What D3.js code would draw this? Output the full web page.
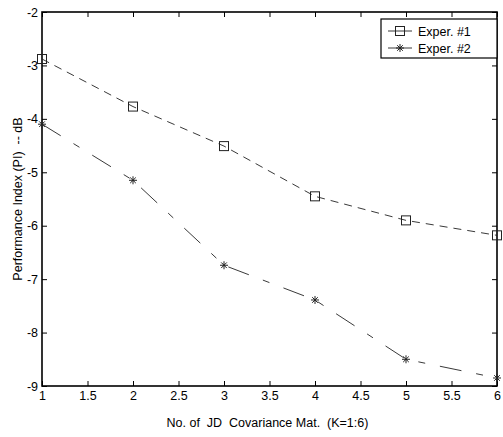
<!DOCTYPE html>
<html><head><meta charset="utf-8">
<script src="https://cdn.jsdelivr.net/npm/d3@7"></script>
<style>body{margin:0;background:#fff}svg{display:block}text{font-family:"Liberation Sans",Arial,sans-serif;fill:#000}</style>
</head><body>
<script>
const kValues = [1, 2, 3, 4, 5, 6];
const exper1 = [-2.88, -3.77, -4.51, -5.45, -5.90, -6.18];
const exper2 = [-4.10, -5.15, -6.74, -7.39, -8.50, -8.85];
const xTicks = [1, 1.5, 2, 2.5, 3, 3.5, 4, 4.5, 5, 5.5, 6];
const yTicks = [-2, -3, -4, -5, -6, -7, -8, -9];
const seriesNames = ["Exper. #1", "Exper. #2"];

const W = 503, H = 437;
const m = {l: 42, r: 6, t: 12, b: 51};
const FS = 12.5;
const svg = d3.select("body").append("svg").attr("width", W).attr("height", H);
const x = d3.scaleLinear().domain([1, 6]).range([m.l, W - m.r]);
const y = d3.scaleLinear().domain([-9, -2]).range([H - m.b, m.t]);

const tl = 5;
svg.append("g").attr("transform", `translate(0,${y(-9)})`)
  .call(d3.axisBottom(x).tickValues(xTicks).tickSize(-tl).tickPadding(5).tickFormat(d3.format("")))
  .call(g => { g.select(".domain").remove(); g.selectAll("text").attr("font-size", FS); });
svg.append("g").attr("transform", `translate(0,${y(-2)})`)
  .call(d3.axisTop(x).tickValues(xTicks).tickSize(-tl).tickFormat(""))
  .call(g => g.select(".domain").remove());
svg.append("g").attr("transform", `translate(${x(1)},0)`)
  .call(d3.axisLeft(y).tickValues(yTicks).tickSize(-tl).tickPadding(4).tickFormat(d3.format("")))
  .call(g => { g.select(".domain").remove(); g.selectAll("text").attr("font-size", FS); });
svg.append("g").attr("transform", `translate(${x(6)},0)`)
  .call(d3.axisRight(y).tickValues(yTicks).tickSize(-tl).tickFormat(""))
  .call(g => g.select(".domain").remove());
svg.selectAll(".tick line").attr("stroke", "#000").attr("stroke-width", 1);
svg.selectAll(".tick text").text(function(){ return this.textContent.replace("−", "-"); });

svg.append("rect").attr("x", x(1)).attr("y", y(-2)).attr("width", x(6) - x(1)).attr("height", y(-9) - y(-2))
  .attr("fill", "none").attr("stroke", "#000").attr("stroke-width", 1.6);

const line = d3.line().x(d => x(d[0])).y(d => y(d[1])).curve(d3.curveLinear);
const d1 = kValues.map((k, i) => [k, exper1[i]]);
const d2 = kValues.map((k, i) => [k, exper2[i]]);
svg.append("path").attr("d", line(d1)).attr("fill", "none").attr("stroke", "#222").attr("stroke-width", 0.9).attr("stroke-dasharray", "8,6");
svg.append("path").attr("d", line(d2)).attr("fill", "none").attr("stroke", "#222").attr("stroke-width", 0.9).attr("stroke-dasharray", "22,15,7,15");

function square(g, cx, cy) {
  g.append("rect").attr("x", cx - 4.5).attr("y", cy - 4.5).attr("width", 9).attr("height", 9)
    .attr("fill", "none").attr("stroke", "#222").attr("stroke-width", 1);
}
function star(g, cx, cy) {
  const r = 4;
  const p = [[-r,0,r,0],[0,-r,0,r],[-r*0.7,-r*0.7,r*0.7,r*0.7],[-r*0.7,r*0.7,r*0.7,-r*0.7]];
  p.forEach(s => g.append("line").attr("x1", cx+s[0]).attr("y1", cy+s[1]).attr("x2", cx+s[2]).attr("y2", cy+s[3])
    .attr("stroke", "#222").attr("stroke-width", 1));
}
const mk = svg.append("g");
d1.forEach(d => square(mk, x(d[0]), y(d[1])));
d2.forEach(d => star(mk, x(d[0]), y(d[1])));

const lg = svg.append("g");
lg.append("rect").attr("x", 381).attr("y", 19).attr("width", x(6) - 381).attr("height", 39)
  .attr("fill", "#fff").attr("stroke", "#000").attr("stroke-width", 1.2);
[0, 1].forEach(i => {
  const ly = 31 + i * 17;
  lg.append("line").attr("x1", 388).attr("x2", 412).attr("y1", ly).attr("y2", ly).attr("stroke", "#222").attr("stroke-width", 0.9);
  if (i === 0) square(lg, 400, ly); else star(lg, 400, ly);
  lg.append("text").attr("x", 418).attr("y", ly + 4.5).attr("font-size", FS).text(seriesNames[i]);
});

svg.append("text").attr("x", (x(1) + x(6)) / 2 - 2).attr("y", 427).attr("text-anchor", "middle").attr("font-size", FS)
  .style("white-space", "pre").text("No. of  JD  Covariance Mat.  (K=1:6)");
svg.append("text").attr("transform", `translate(22,${(y(-2) + y(-9)) / 2}) rotate(-90)`).attr("text-anchor", "middle").attr("font-size", FS)
  .style("white-space", "pre").text("Performance Index (PI)  -- dB");
</script>
</body></html>
